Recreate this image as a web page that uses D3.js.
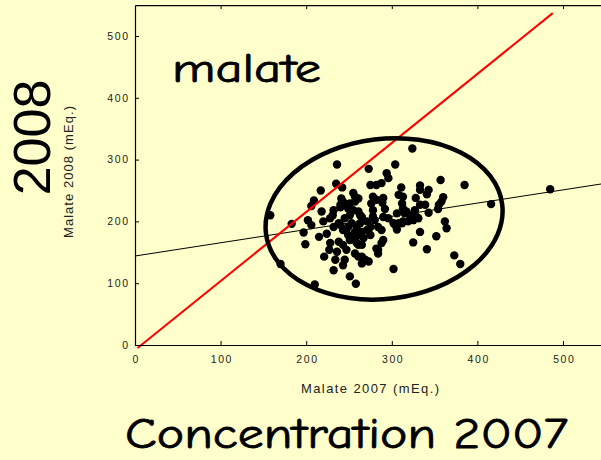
<!DOCTYPE html>
<html><head><meta charset="utf-8">
<script src="https://cdn.jsdelivr.net/npm/d3@7"></script>
<style>
html,body{margin:0;padding:0;background:#FFFFCC;}
svg{display:block;}
</style></head><body>
<svg id="chart" width="601" height="460"></svg>
<script>
// ---- data ----
const x2007 = [158,170,183,197,199,202,206,206,209,210,215,217,218,220,224,228,221,227,232,234,
  236,238,231,238,240,241,236,235,242,228,232,240,243,249,253,243,251,259,265,247,
  245,257,265,269,273,282,288,290,284,243,251,258,265,302,232,240,251,257,261,276,
  278,278,282,289,292,255,261,265,290,306,317,321,329,343,362,364,257,263,267,271,
  275,284,288,304,306,312,319,325,331,324,273,304,294,296,275,282,288,311,333,333,
  341,255,257,278,290,308,313,328,243,247,333,339,312,313,263,249,251,245,327,315,
  302,308,313,296,280,271,275,265,263,259,249,333,325,341,284,255,257,261,261,357,
  385,360,358,355,354,416,485,352,373,380,343];
const y2008 = [210,131,196,182,163,202,194,225,234,98,175,250,216,200,180,165,143,154,121,138,
  151,167,210,197,227,237,292,261,255,205,191,194,186,191,197,162,170,165,162,154,
  138,148,143,138,135,156,165,170,148,129,111,99,132,123,218,223,229,232,237,229,
  218,208,235,230,220,218,216,207,207,213,216,210,207,214,200,189,183,178,173,186,
  191,191,186,194,187,197,200,202,205,318,285,292,278,270,259,259,262,255,258,251,
  244,246,240,240,238,243,240,238,232,227,227,227,229,221,210,221,210,205,218,213,
  197,197,200,205,202,200,178,183,197,191,178,183,166,155,154,178,170,162,143,267,
  259,239,232,227,220,228,252,176,145,131,251];
const xTicks = [0,100,200,300,400,500];
const yTicks = [0,100,200,300,400,500];
const refLineX = [3,488];      // red line ends (x)
const refLineY = [-5,537];     // red line ends (y)
const fitIntercept = 144, fitSlope = 0.214;  // black regression line
const ellipseCenter = [291,204];             // highlighted cluster centre (data units)

// ---- layout ----
const svg = d3.select("#chart");
svg.append("rect").attr("width",601).attr("height",460).attr("fill","#FFFFCC");
const x = d3.scaleLinear().domain([0,550]).range([135, 135+550*0.856]);
const y = d3.scaleLinear().domain([0,550]).range([345, 345-550*0.618]);
const tickFont = "'Liberation Sans', Arial, sans-serif";

// regression line (under points)
svg.append("line")
  .attr("x1",x(0)).attr("y1",y(fitIntercept))
  .attr("x2",x(550)).attr("y2",y(fitIntercept+fitSlope*550))
  .attr("stroke","#000").attr("stroke-width",1);

// points
svg.append("g").selectAll("circle").data(x2007.map((d,i)=>[d,y2008[i]]))
  .join("circle").attr("cx",d=>x(d[0])).attr("cy",d=>y(d[1])).attr("r",4.2).attr("fill","#000");

// red reference line
svg.append("line")
  .attr("x1",x(refLineX[0])).attr("y1",y(refLineY[0]))
  .attr("x2",x(refLineX[1])).attr("y2",y(refLineY[1]))
  .attr("stroke","#FF0000").attr("stroke-width",2);

// ellipse annotation
svg.append("ellipse")
  .attr("transform",`translate(${x(ellipseCenter[0])},${y(ellipseCenter[1])}) rotate(-7)`)
  .attr("rx",119).attr("ry",80)
  .attr("fill","none").attr("stroke","#000").attr("stroke-width",4.5);

// axes
const gx = svg.append("g").attr("transform",`translate(0,${y(0)})`)
  .call(d3.axisBottom(x).tickValues(xTicks).tickSize(-4).tickSizeOuter(0).tickPadding(11).tickFormat(d3.format("d")));
const gy = svg.append("g").attr("transform",`translate(${x(0)},0)`)
  .call(d3.axisLeft(y).tickValues(yTicks).tickSize(-4).tickSizeOuter(0).tickPadding(7).tickFormat(d3.format("d")));
const gt = svg.append("g").attr("transform",`translate(0,${y(550)})`)
  .call(d3.axisTop(x).tickValues(xTicks.slice(1)).tickSize(-4).tickSizeOuter(0).tickFormat(""));
[gx,gy,gt].forEach(g=>{
  g.select(".domain").attr("stroke","#000").attr("stroke-width",1.2);
  g.selectAll(".tick line").attr("stroke","#000").attr("stroke-width",1);
  g.selectAll("text").attr("font-family",tickFont).attr("font-size",10.5)
    .attr("fill","#222").attr("letter-spacing",1.6);
});
gy.selectAll("text").attr("dx",1.6);
gx.selectAll("text").attr("dx",0.8);

// axis titles
svg.append("text").attr("x",370).attr("y",392.5).attr("text-anchor","middle")
  .attr("font-family",tickFont).attr("font-size",13).attr("fill","#222")
  .attr("textLength",138).attr("lengthAdjust","spacing").text("Malate 2007 (mEq.)");
svg.append("text").attr("transform","translate(73,172) rotate(-90)").attr("text-anchor","middle")
  .attr("font-family",tickFont).attr("font-size",13).attr("fill","#222")
  .attr("textLength",132).attr("lengthAdjust","spacing").text("Malate 2008 (mEq.)");

// big labels
const comic = "'Comic Sans MS','Comic Neue',Lato,sans-serif";
svg.append("text").attr("x",172).attr("y",82).attr("font-family",comic).attr("font-size",40)
  .attr("fill","#000").attr("stroke","#000").attr("stroke-width",0.8)
  .attr("textLength",149).attr("lengthAdjust","spacingAndGlyphs").text("malate");
svg.append("text").attr("x",125).attr("y",448).attr("font-family",comic).attr("font-size",43)
  .attr("fill","#000").attr("stroke","#000").attr("stroke-width",0.8)
  .attr("textLength",443).attr("lengthAdjust","spacingAndGlyphs").text("Concentration 2007");
svg.append("text").attr("transform","translate(50,137.5) rotate(-90)").attr("text-anchor","middle")
  .attr("font-family",tickFont).attr("font-size",52).attr("fill","#000").text("2008");
</script>
</body></html>
